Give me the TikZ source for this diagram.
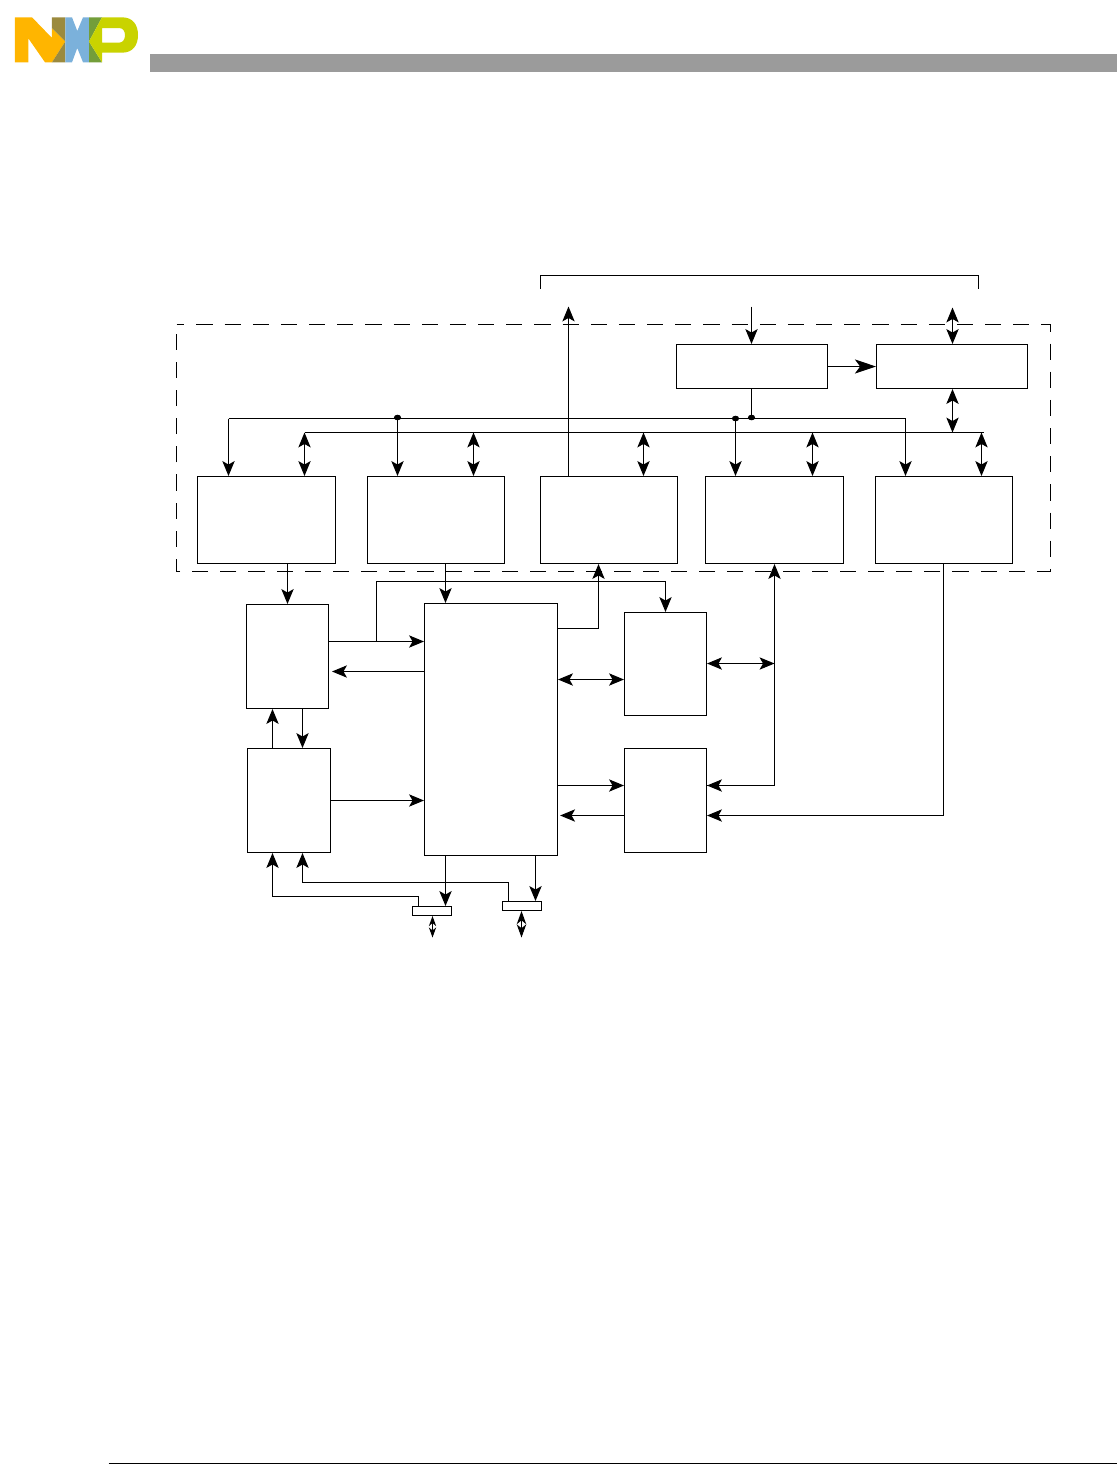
\documentclass[tikz,border=0pt]{standalone}
\definecolor{nxporange}{RGB}{255, 181, 0}
\definecolor{nxpbrown}{RGB}{155, 138, 62}
\definecolor{nxpblue}{RGB}{123, 177, 219}
\definecolor{nxpgreen}{RGB}{115, 158, 58}
\definecolor{nxpyellow}{RGB}{201, 211, 0}
\definecolor{headbar}{RGB}{155, 155, 155}
\usepackage{tikz}
\usetikzlibrary{shapes, arrows.meta, positioning, calc}

\begin{document}
\begin{tikzpicture}[
    x=0.02cm, y=-0.02cm, line width=0.6pt,
    box/.style={draw, minimum width=#1, inner sep=0pt},
    topbox/.style={box=3.02cm, minimum height=0.88cm},
    rowbox/.style={box=2.74cm, minimum height=1.74cm},
    sidebox/.style={box=1.64cm, minimum height=2.08cm},
    tinybox/.style={box=0.78cm, minimum height=0.18cm},
    busdot/.style={draw, fill=black, ellipse, inner sep=0pt, minimum width=0.12cm, minimum height=0.09cm},
    arr/.style={-{Stealth[length=8.5pt, width=7pt, inset=2pt]}},
    biarr/.style={{Stealth[length=8.5pt, width=7pt, inset=2pt]}-{Stealth[length=8.5pt, width=7pt, inset=2pt]}},
    bigarr/.style={-{Stealth[length=12pt, width=8pt, inset=3pt]}},
    padarr/.style={{Stealth[length=#1, width=0.72*#1, inset=0.3*#1]}-{Stealth[length=#1, width=0.72*#1, inset=0.3*#1]}}
  ]
    \useasboundingbox (0.5,0.5) rectangle (1116.5,1471.5);

    \begin{scope}[shift={(0.5,0.5)}]
    \fill[headbar] (150,54) rectangle (1117,72);
    \fill[nxporange] (15,17.3) -- (32,17.3) -- (52,38) -- (52,28) -- (65.3,41.5)
      -- (52,62.3) -- (45,62.3) -- (28.3,38.3) -- (28.3,62.3) -- (15,62.3) -- cycle;
    \fill[nxpbrown] (52,17.3) -- (65.3,17.3) -- (65.3,41.5) -- (52,28) -- cycle;
    \fill[nxpbrown] (65.3,41.5) -- (65.3,62.3) -- (52,62.3) -- cycle;
    \fill[nxpblue] (65.3,17.3) -- (72,17.3) -- (77.3,31) -- (83,17.3) -- (89,17.3)
      -- (89,62.3) -- (83,62.3) -- (77.3,48) -- (72,62.3) -- (65.3,62.3) -- cycle;
    \fill[nxpgreen] (89,17.3) -- (102,17.3) -- (89,41.5) -- (102,62.3) -- (89,62.3) -- cycle;
    \fill[nxpyellow, even odd rule] (102,17.3) -- (122,17.3)
      .. controls (133,17.3) and (138,25) .. (138,35)
      .. controls (138,45) and (133,52.7) .. (122,52.7)
      -- (102,52.7) -- (102,62.3) -- (89,41.5) -- cycle
      (102,28) -- (102,42.7) -- (119,42.7)
      .. controls (123,42.7) and (125,39) .. (125,35.3)
      .. controls (125,31) and (123,28) .. (119,28) -- cycle;
    \end{scope}
    \draw (109,1464) -- (1117,1464);

    \draw[dash pattern=on 9.2pt off 6.83pt, dash phase=4.65pt]
      (177,325) -- (1051,325) -- (1051,572) -- (177,572) -- cycle;

    \node[topbox] (ctrl) at (752.5,367) {};
    \node[topbox] (host) at (952.5,367) {};
    \node[rowbox, minimum width=2.76cm] (rowa) at (267,520.5) {};
    \node[rowbox] (rowb) at (436.5,520.5) {};
    \node[rowbox] (rowc) at (609.5,520.5) {};
    \node[rowbox, minimum width=2.76cm] (rowd) at (775,520.5) {};
    \node[rowbox] (rowe) at (944.5,520.5) {};
    \node[sidebox] (lefta) at (288,657) {};
    \node[sidebox, minimum width=1.66cm] (leftb) at (289.5,801) {};
    \node[box=2.66cm, minimum height=5.04cm] (core) at (491.5,730) {};
    \node[sidebox, minimum height=2.06cm] (righta) at (666,664.5) {};
    \node[sidebox] (rightb) at (666,801) {};
    \node[tinybox] (pada) at (432.5,911.5) {};
    \node[tinybox] (padb) at (522.5,906.5) {};

    \coordinate (brkl) at (541,289);
    \coordinate (brkr) at (979,289);
    \coordinate (outc) at (569,307);
    \coordinate (inctrl) at (752,307);
    \coordinate (inhost) at (953,308);
    \coordinate (busa) at (229,419);
    \coordinate (busb) at (906,419);
    \coordinate (busc) at (305,433);
    \coordinate (busd) at (984,433);
    \coordinate (pinb) at (377,642);
    \coordinate (pinc) at (775,664);
    \coordinate (pind) at (944,816);
    \coordinate (ioa) at (433,938);
    \coordinate (iob) at (522,938);
    \node[busdot] (dota) at (398,418) {};
    \node[busdot] (dotb) at (736,419) {};
    \node[busdot] (dotc) at (752,418) {};

    \draw (brkl) -- ++(0,-13) -| (brkr);
    \draw[arr] (rowc.north -| outc) -- (outc);
    \draw[arr] (inctrl) -- (ctrl.north -| inctrl);
    \draw[biarr] (inhost) -- (host.north -| inhost);
    \draw[bigarr] (ctrl.east |- 0,367) -- (host.west |- 0,367);
    \draw[biarr] (host.south -| inhost) -- (inhost |- busd);
    \draw (ctrl.south -| dotc) -- (dotc);

    \draw (busa) -- (busb);
    \draw (busc) -- (busd);
    \draw[arr] (busa) -- (busa |- rowa.north);
    \draw[arr] (dota) -- (dota |- rowb.north);
    \draw[arr] (dotb) -- (dotb |- rowd.north);
    \draw[arr] (busb) -- (busb |- rowe.north);
    \draw[biarr] (busc) -- (busc |- rowa.north);
    \draw[biarr] (busc -| 474,0) -- (rowb.north -| 474,0);
    \draw[biarr] (busc -| 644,0) -- (rowc.north -| 644,0);
    \draw[biarr] (busc -| 813,0) -- (rowd.north -| 813,0);
    \draw[biarr] (busd -| 982,0) -- (rowe.north -| 982,0);

    \draw[arr] (rowa.south -| 288,0) -- (lefta.north -| 288,0);
    \draw[arr] (rowb.south -| 446,0) -- (core.north -| 446,0);
    \draw[arr] (lefta.east |- pinb) -- (core.west |- pinb);
    \draw[arr] (pinb) |- (666,582) -- (righta.north -| 666,0);
    \draw[arr, shorten >=1.7pt] (core.west |- 0,672) -- (lefta.east |- 0,672);
    \draw[arr] (core.east |- 0,629) -| (rowc.south -| 599,0);
    \draw[biarr] (core.east |- 0,680) -- (righta.west |- 0,680);
    \draw[biarr] (righta.east |- pinc) -- (pinc);
    \draw[arr] (rightb.east |- 0,786) -| (rowd.south -| pinc);
    \draw[arr] (pinc |- 0,786) -- (rightb.east |- 0,786);
    \draw[arr] (core.east |- 0,786) -- (rightb.west |- 0,786);
    \draw[arr, shorten >=1.2pt] (rightb.west |- pind) -- (core.east |- pind);
    \draw[arr] (rowe.south -| pind) -- (pind) -- (rightb.east |- pind);
    \draw[arr] (leftb.north -| 273,0) -- (lefta.south -| 273,0);
    \draw[arr] (lefta.south -| 303,0) -- (leftb.north -| 303,0);
    \draw[arr] (leftb.east |- 0,801) -- (core.west |- 0,801);
    \draw[arr] (core.south -| 446,0) -- (pada.north -| 446,0);
    \draw[arr] (core.south -| 536,0) -- (padb.north -| 536,0);
    \draw[arr] (pada.north -| 419,0) |- (273,897) -- (leftb.south -| 273,0);
    \draw[arr] (padb.north -| 509,0) |- (303,883) -- (leftb.south -| 303,0);
    \draw[padarr=5.7pt] (pada.south -| ioa) -- (ioa);
    \draw[padarr=7.5pt] (padb.south -| iob) -- (iob);
  \end{tikzpicture}
\end{document}
